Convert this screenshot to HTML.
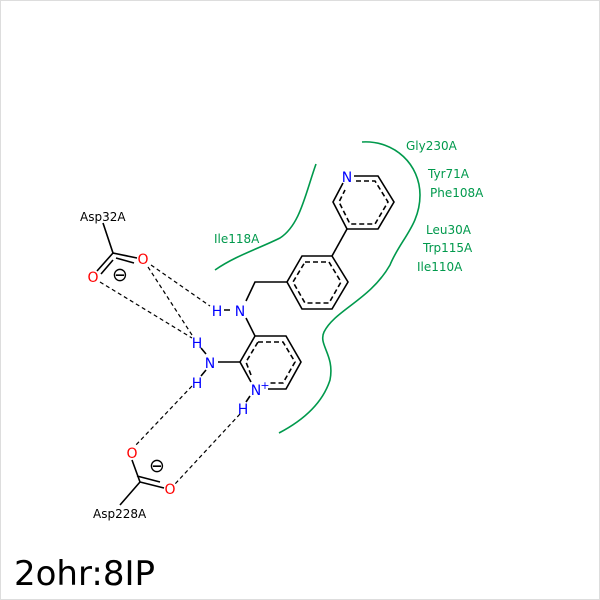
<!DOCTYPE html>
<html><head><style>body{margin:0;background:#fff}svg{display:block}</style></head><body>
<svg width="600" height="600" viewBox="0 0 600 600" xmlns="http://www.w3.org/2000/svg" font-family="DejaVu Sans, Liberation Sans, sans-serif">
<rect x="0.5" y="0.5" width="599" height="599" fill="#fff" stroke="#ddd"/>
<g fill="none" stroke="#00994c" stroke-width="1.6">
<path d="M215,270 C235,256 260,248 280,238 C300,225 305,195 316,164"/>
<path d="M362,142 C395,140 420,165 420,195 C420,225 400,240 390,265 C370,300 335,310 324,332 C318,345 335,355 330,380 C322,405 300,422 279,433"/>
</g>
<g fill="#00994c" font-size="12">
<text x="406" y="150">Gly230A</text>
<text x="428" y="178">Tyr71A</text>
<text x="430" y="197">Phe108A</text>
<text x="426" y="234">Leu30A</text>
<text x="423" y="252">Trp115A</text>
<text x="417" y="271">Ile110A</text>
<text x="214" y="243">Ile118A</text>
</g>
<g stroke="#000" stroke-width="1.6" fill="none">
<path d="M354,176 L378,176 L394,202 L378,229 L347,229 L333,202 L343,183"/>
<path d="M356,181 L375,181 L388,202 L375,224 L350,224 L339,202 L345,190" stroke-dasharray="5,3"/>
<path d="M347,229 L332,256"/>
<path d="M302,256 L332,256 L348,282 L332,309 L302,309 L287,282 Z"/>
<path d="M305,262 L329,262 L341,282 L329,303 L305,303 L293,282 Z" stroke-dasharray="5,3"/>
<path d="M287,282 L255,282 L246,301"/>
<path d="M246,318 L255,336 L286,336 L301,362 L286,389 L268,389 M251,382 L240,362 L255,336"/>
<path d="M258,342 L283,342 L295,362 L283,383 L270,383 M251,375 L246,362 L258,342" stroke-dasharray="5,3"/>
<path d="M240,362 L218,362"/>
<path d="M206,354 L201,348 M206,370 L201,376 M250,396 L246,402 M224,310 L230,310"/>
<path d="M103,223 L113,253 L137,258 M113,253 L97,271 M116,258 L134,263 M113,260 L101,274" />
<path d="M132,460 L140,482 L164,488 M140,482 L120,505 M137,476 L160,482" />
</g>
<g stroke="#000" stroke-width="1.2" stroke-dasharray="4,3" fill="none">
<path d="M151,265 L210,306"/>
<path d="M148,267 L192,335"/>
<path d="M100,282 L192,338"/>
<path d="M192,386 L135,446"/>
<path d="M240,414 L175,484"/>
</g>
<g font-size="14" fill="#0000ff" text-anchor="middle">
<text x="347" y="182">N</text>
<text x="240" y="316">N</text>
<text x="217" y="316">H</text>
<text x="210" y="368">N</text>
<text x="197" y="348">H</text>
<text x="197" y="388">H</text>
<text x="256" y="395">N</text>
<text x="265" y="389" font-size="11">+</text>
<text x="243" y="414">H</text>
</g>
<g font-size="14" fill="#ff0000" text-anchor="middle">
<text x="143" y="264">O</text>
<text x="93" y="282">O</text>
<text x="132" y="458">O</text>
<text x="170" y="494">O</text>
</g>
<g font-size="19" fill="#000" text-anchor="middle">
<text x="120" y="281">⊖</text>
<text x="157" y="472">⊖</text>
</g>
<g font-size="12" fill="#000">
<text x="80" y="221">Asp32A</text>
<text x="93" y="518">Asp228A</text>
</g>
<text x="14" y="585" font-size="34" fill="#000">2ohr:8IP</text>
</svg>
</body></html>
